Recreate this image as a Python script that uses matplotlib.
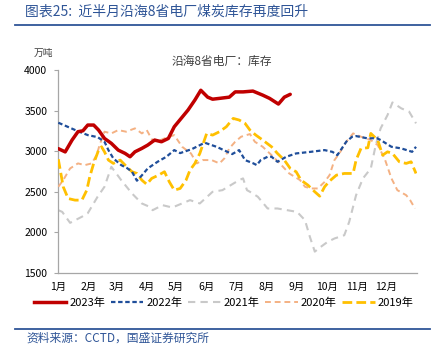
import matplotlib
matplotlib.use("Agg")
import matplotlib.pyplot as plt
from matplotlib.lines import Line2D

plt.rcParams['font.family'] = ['Noto Sans CJK SC', 'DejaVu Sans']

# ---------------- data (day of year, 万吨) ----------------
month_starts = [0, 31, 59, 90, 120, 151, 181, 212, 243, 273, 304, 334]
month_labels = ["1月", "2月", "3月", "4月", "5月", "6月", "7月", "8月", "9月", "10月", "11月", "12月"]

d2023 = [0, 7, 14, 20, 25, 30, 36, 41, 47, 54, 61, 68, 73, 78, 85, 91, 98, 105, 112, 118,
         125, 132, 139, 145, 152, 157, 164, 174, 180, 188, 198, 208, 215, 224, 230, 236]
v2023 = [3030, 2990, 3136, 3239, 3250, 3321, 3321, 3259, 3156, 3095, 3012, 2971, 2930, 2991,
         3033, 3074, 3136, 3115, 3156, 3300, 3403, 3506, 3630, 3750, 3665, 3640, 3650, 3665,
         3730, 3730, 3740, 3690, 3650, 3580, 3665, 3700]

d2022 = [0, 19, 30, 40, 47, 51, 56, 64, 70, 75, 80, 85, 91, 101, 110, 118, 124, 136, 149, 161,
         177, 184, 190, 198, 202, 206, 213, 217, 223, 232, 242, 257, 271, 279, 284, 293, 299,
         303, 315, 324, 328, 339, 349, 360, 364]
v2022 = [3350, 3250, 3197, 3172, 3115, 3012, 2910, 2827, 2790, 2745, 2635, 2700, 2786, 2868,
         2930, 3012, 2975, 3025, 3103, 3053, 2963, 3012, 2889, 2851, 2827, 2889, 2930, 2930,
         2868, 2930, 2971, 2991, 3012, 2990, 2950, 3115, 3177, 3185, 3156, 3160, 3136, 3053,
         3033, 2991, 3053]

d2021 = [0, 4, 12, 24, 30, 40, 47, 54, 64, 75, 85, 93, 96, 106, 116, 134, 144, 157, 167, 184,
         188, 192, 195, 203, 213, 223, 233, 243, 251, 256, 261, 267, 274, 281, 291, 296, 303,
         310, 318, 323, 328, 335, 340, 349, 357, 364]
v2021 = [2271, 2250, 2115, 2190, 2234, 2437, 2560, 2806, 2642, 2477, 2354, 2312, 2271, 2333,
         2304, 2395, 2354, 2498, 2518, 2642, 2663, 2518, 2498, 2437, 2292, 2292, 2271, 2250,
         2148, 1942, 1760, 1818, 1880, 1922, 1962, 2127, 2456, 2663, 2786, 3074, 3280, 3444,
         3600, 3527, 3486, 3342]

d2020 = [0, 5, 12, 20, 27, 34, 39, 42, 47, 54, 61, 69, 78, 85, 90, 95, 98, 103, 108, 118, 126,
         135, 141, 147, 156, 164, 169, 174, 180, 186, 195, 200, 208, 217, 227, 235, 246, 251,
         257, 264, 271, 276, 281, 286, 293, 300, 308, 318, 325, 332, 339, 345, 354, 358, 363]
v2020 = [2560, 2642, 2786, 2848, 2827, 2848, 2950, 3074, 3239, 3218, 3259, 3239, 3280, 3218,
         3259, 3150, 3120, 3130, 3156, 3197, 3053, 2971, 2848, 2889, 2889, 2848, 2910, 3033,
         3115, 3177, 3210, 3115, 3053, 2950, 2827, 2724, 2642, 2560, 2539, 2539, 2620, 2703,
         2889, 2971, 3115, 3218, 3177, 3136, 3074, 2910, 2663, 2518, 2456, 2395, 2292]

d2019 = [0, 2, 5, 10, 17, 24, 29, 32, 36, 41, 44, 47, 51, 56, 63, 68, 75, 80, 85, 90, 95, 102,
         108, 113, 118, 124, 130, 134, 139, 144, 151, 157, 164, 171, 178, 184, 190, 195, 201,
         208, 217, 223, 230, 236, 242, 247, 254, 261, 266, 271, 276, 283, 291, 300, 303, 308,
         315, 318, 325, 330, 335, 340, 347, 354, 359, 364]
v2019 = [2900, 2765, 2560, 2415, 2395, 2395, 2518, 2683, 2848, 3012, 3053, 2991, 2889, 2848,
         2889, 2827, 2745, 2724, 2642, 2590, 2663, 2703, 2745, 2620, 2518, 2539, 2642, 2765,
         2848, 2971, 3218, 3197, 3239, 3300, 3403, 3383, 3342, 3259, 3197, 3136, 3053, 2971,
         2889, 2786, 2745, 2642, 2580, 2498, 2444, 2560, 2630, 2703, 2724, 2724, 2889, 3033,
         3041, 3218, 3136, 2950, 2991, 2971, 2868, 2848, 2868, 2724]

series_names = ["2023年", "2022年", "2021年", "2020年", "2019年"]

# ---------------- figure ----------------
W, H = 441, 357
fig = plt.figure(figsize=(W / 100, H / 100), dpi=100)
ax = fig.add_axes([58.3 / W, 1 - 272.7 / H, (417 - 58.3) / W, (272.7 - 70) / H])

ax.plot(d2021, v2021, color="#C9C9C9", lw=1.5, linestyle=(0, (3.5, 2.5)), zorder=2)
ax.plot(d2020, v2020, color="#F4B183", lw=1.4, linestyle=(0, (3, 2)), zorder=3)
ax.plot(d2019, v2019, color="#FFC000", lw=2.0, linestyle=(0, (3.5, 1.5)), zorder=4)
ax.plot(d2022, v2022, color="#1F4E9A", lw=1.6, linestyle=(0, (2, 1.2)), zorder=5)
ax.plot(d2023, v2023, color="#C00000", lw=2.5, solid_capstyle="round", zorder=6)

ax.set_xlim(0, 365)
ax.set_ylim(1500, 4000)
ax.set_yticks([1500, 2000, 2500, 3000, 3500, 4000])
ax.set_xticks(month_starts)
ax.set_xticklabels(month_labels)
ax.tick_params(axis="y", length=3, width=0.8, color="#A6A6A6", labelsize=7.5, pad=5, labelcolor="#000000")
ax.tick_params(axis="x", length=0, labelsize=7.5, pad=7, labelcolor="#000000")
for s in ["top", "right"]:
    ax.spines[s].set_visible(False)
for s in ["left", "bottom"]:
    ax.spines[s].set_color("#A6A6A6")
    ax.spines[s].set_linewidth(0.9)

# titles / labels
fig.text(25 / W, 1 - 12 / H, "图表25:  近半月沿海8省电厂煤炭库存再度回升", fontsize=10,
         color="#2F5597", style="italic", va="center", ha="left")
fig.add_artist(Line2D([15 / W, 430 / W], [1 - 24.5 / H, 1 - 24.5 / H], color="#2F5597", lw=1.3))
fig.add_artist(Line2D([15 / W, 430 / W], [1 - 328.5 / H, 1 - 328.5 / H], color="#2F5597", lw=1.3))
fig.text(26 / W, 1 - 338 / H, "资料来源：CCTD，国盛证券研究所", fontsize=8.5,
         color="#2F5597", style="italic", va="center", ha="left")
fig.text(222 / W, 1 - 61 / H, "沿海8省电厂：库存", fontsize=8.5, color="#404040",
         va="center", ha="center")
fig.text(43 / W, 1 - 52.5 / H, "万吨", fontsize=7, color="#404040", va="center", ha="center")

handles = [
    Line2D([], [], color="#C00000", lw=2.5),
    Line2D([], [], color="#1F4E9A", lw=1.6, linestyle=(0, (2, 1.2))),
    Line2D([], [], color="#C9C9C9", lw=1.5, linestyle=(0, (3.5, 2.5))),
    Line2D([], [], color="#F4B183", lw=1.4, linestyle=(0, (3, 2))),
    Line2D([], [], color="#FFC000", lw=2.0, linestyle=(0, (3.5, 1.5))),
]
fig.legend(handles, series_names, ncol=5, loc="center", bbox_to_anchor=(224 / W, 1 - 303 / H),
           frameon=False, fontsize=8, handlelength=2.9, handletextpad=0.3, columnspacing=0.5)

fig.savefig("out.png", dpi=100, facecolor="white")
